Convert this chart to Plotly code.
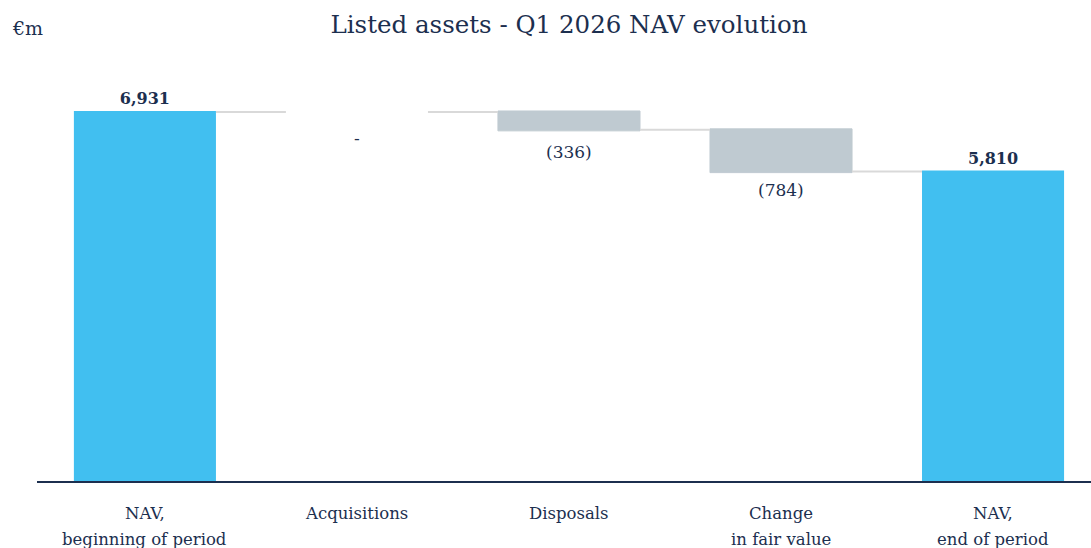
import plotly.graph_objects as go

categories = ["NAV,<br>beginning of period", "Acquisitions", "Disposals", "Change<br>in fair value", "NAV,<br>end of period"]
measures = ["absolute", "relative", "relative", "relative", "total"]
values = [6931, 0, -336, -784, 5810]
labels = ["<b>6,931</b>", "-", "(336)", "(784)", "<b>5,810</b>"]

NAVY = "#1c2f4f"
BLUE = "#41bff0"
GREY = "#bfcad1"
FONT = "DejaVu Serif"

# labels drawn on the bar (totals) vs. below the bar level (movements)
on_bar = [m != "relative" for m in measures]
below_shift = [0, -26, -22, -18, 0]
tick_line_shift = [-32, -58]

fig = go.Figure(go.Waterfall(
    x=categories,
    measure=measures,
    y=values,
    text=[t if ob else "" for t, ob in zip(labels, on_bar)],
    textposition="outside",
    textfont=dict(family=FONT, size=16, color=NAVY),
    cliponaxis=False,
    width=0.67,
    increasing=dict(marker=dict(color=GREY, line=dict(color=GREY, width=1))),
    decreasing=dict(marker=dict(color=GREY, line=dict(color=GREY, width=1))),
    totals=dict(marker=dict(color=BLUE, line=dict(color=BLUE, width=0))),
    connector=dict(mode="between", line=dict(color="#d9d9d9", width=2)),
))

annotations = []
level = 0
for cat, m, v, t, ob, dy in zip(categories, measures, values, labels, on_bar, below_shift):
    if m == "absolute":
        level = v
    elif m == "relative":
        level += v
    if not ob:
        annotations.append(dict(x=cat, y=level, xref="x", yref="y", text=t, showarrow=False,
                                yanchor="middle", yshift=dy,
                                font=dict(family=FONT, size=17, color=NAVY)))
    # category label lines under the axis
    for line, ls in zip(cat.split("<br>"), tick_line_shift):
        annotations.append(dict(x=cat, y=0, xref="x", yref="paper", text=line, showarrow=False,
                                yanchor="middle", yshift=ls,
                                font=dict(family=FONT, size=16.5, color=NAVY)))

annotations.append(dict(text="€m", xref="paper", yref="paper", x=-0.026, y=1.189,
                        xanchor="left", yanchor="middle", showarrow=False,
                        font=dict(family=FONT, size=19, color=NAVY)))

fig.update_layout(
    width=1091, height=548,
    margin=dict(l=37, r=0, t=100, b=67),
    paper_bgcolor="white", plot_bgcolor="white",
    showlegend=False,
    font=dict(family=FONT, color=NAVY),
    title=dict(text="Listed assets - Q1 2026 NAV evolution", x=0.5215, xanchor="center",
               y=0.955, yanchor="middle", font=dict(family=FONT, size=24.5, color=NAVY)),
    annotations=annotations,
)
fig.update_xaxes(range=[-0.509, 4.462], showline=True, linecolor=NAVY, linewidth=2,
                 showticklabels=False, ticks="", showgrid=False)
fig.update_yaxes(range=[0, 7156], visible=False, showgrid=False)

fig.write_html("out.html", config={"displayModeBar": False},
               post_script="document.body.style.margin='0';")
